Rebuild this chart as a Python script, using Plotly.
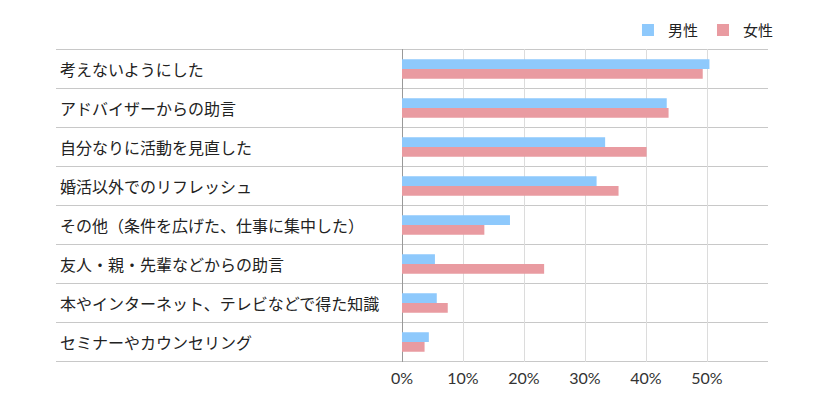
import plotly.graph_objects as go

categories = [
    "考えないようにした",
    "アドバイザーからの助言",
    "自分なりに活動を見直した",
    "婚活以外でのリフレッシュ",
    "その他（条件を広げた、仕事に集中した）",
    "友人・親・先輩などからの助言",
    "本やインターネット、テレビなどで得た知識",
    "セミナーやカウンセリング",
]
male = [0.504, 0.434, 0.333, 0.319, 0.177, 0.054, 0.057, 0.044]
female = [0.493, 0.437, 0.401, 0.355, 0.135, 0.233, 0.075, 0.037]
tick_vals = [0, 0.1, 0.2, 0.3, 0.4, 0.5]
tick_text = ["0%", "10%", "20%", "30%", "40%", "50%"]

JP_FONT = "Noto Sans CJK JP"

fig = go.Figure()
fig.add_trace(go.Bar(y=categories, x=male, name="男性", orientation="h",
                     marker=dict(color="#8ec9fc", line=dict(width=0))))
fig.add_trace(go.Bar(y=categories, x=female, name="女性", orientation="h",
                     marker=dict(color="#e99ba1", line=dict(width=0))))

# horizontal separators running under the labels too
left = (56 - 402) / 366
n = len(categories)
for i in range(n + 1):
    fig.add_shape(type="line", xref="paper", yref="y",
                  x0=left, x1=1, y0=i - 0.5, y1=i - 0.5,
                  line=dict(color="#c8c8c8", width=1), layer="below")

# left-aligned category labels
for cat in categories:
    fig.add_annotation(text=cat, xref="paper", yref="y", x=(58 - 402) / 366, y=cat,
                       xanchor="left", yanchor="middle", showarrow=False,
                       font=dict(family=JP_FONT, size=16, color="#222222"))

# page body has an 8px default margin, so the figure is 8px smaller
fig.update_layout(
    width=818, height=404,
    margin=dict(l=394, r=58, t=41, b=50, autoexpand=False),
    paper_bgcolor="white", plot_bgcolor="white",
    barmode="group", bargap=0.5, bargroupgap=0,
    font=dict(family=JP_FONT, color="#222222"),
    showlegend=True,
    legend=dict(orientation="h", x=1.03, xanchor="right", y=1.06, yanchor="middle",
                font=dict(family=JP_FONT, size=15, color="#222222"),
                itemwidth=30, traceorder="normal"),
    xaxis=dict(range=[0, 0.6], tickvals=tick_vals, ticktext=tick_text,
               showgrid=True, gridcolor="#dcdcdc", gridwidth=1,
               zeroline=True, zerolinecolor="#999999", zerolinewidth=1,
               showline=False, ticks="", ticklabelstandoff=5,
               tickfont=dict(family="Lato", size=16, color="#333333")),
    yaxis=dict(autorange="reversed", showticklabels=False, showgrid=False,
               zeroline=False, showline=False, ticks=""),
)

fig.write_html("out.html")
